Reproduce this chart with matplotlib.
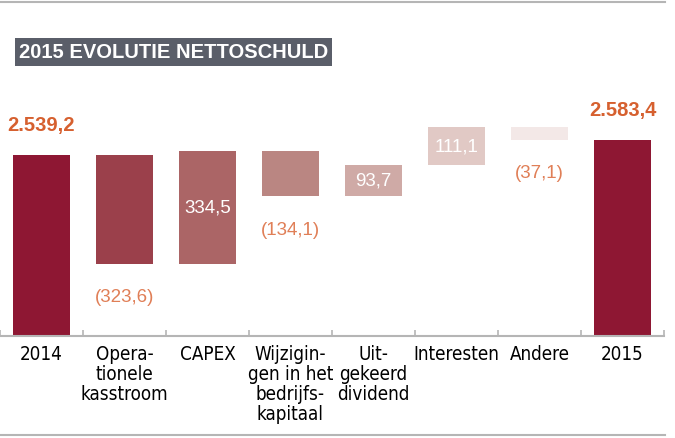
import numpy as np
import matplotlib
matplotlib.use('Agg')
import matplotlib.pyplot as plt
from matplotlib.lines import Line2D
from matplotlib import font_manager

categories = ['2014', 'Opera-\ntionele\nkasstroom', 'CAPEX', 'Wijzigin-\ngen in het\nbedrijfs-\nkapitaal',
              'Uit-\ngekeerd\ndividend', 'Interesten', 'Andere', '2015']
start_total = 2539.2
end_total = 2583.4
changes = [-323.6, 334.5, -134.1, 93.7, 111.1, -37.1]
labels = ['2.539,2', '(323,6)', '334,5', '(134,1)', '93,7', '111,1', '(37,1)', '2.583,4']
colors = ['#8e1733', '#9b404b', '#ab6566', '#ba8682', '#cfaaa6', '#e1c9c5', '#f3e8e7', '#8e1733']

ORANGE = '#d6602f'
ORANGE_LIGHT = '#e07f57'
plain = ['Liberation Sans', 'DejaVu Sans']


def pick_narrow():
    # look for any installed condensed / narrow sans face
    for f in font_manager.fontManager.ttflist:
        n = (f.name + ' ' + f.fname).lower()
        low = f.fname.lower()
        if ('narrow' in n or 'condensed' in n) and 'bold' not in low \
                and 'italic' not in low and 'oblique' not in low:
            return font_manager.FontProperties(fname=f.fname, size=13.5)
    return font_manager.FontProperties(family='Liberation Sans', size=13)


def main():
    fig = plt.figure(figsize=(6.75, 4.39), dpi=100)
    fig.patch.set_facecolor('white')
    ax = fig.add_axes([0, 102 / 439, 664 / 675, 337 / 439])

    # waterfall geometry
    cum = start_total + np.cumsum([0] + changes)
    bottoms = [0]
    heights = [start_total]
    for i, c in enumerate(changes):
        bottoms.append(min(cum[i], cum[i + 1]))
        heights.append(abs(c))
    bottoms.append(0)
    heights.append(end_total)

    x = np.arange(len(categories))
    ax.bar(x, heights, bottom=bottoms, width=0.69, color=colors, zorder=2)

    ymin = 2000
    ax.set_ylim(ymin, ymin + 337 / 0.336)
    ax.set_xlim(-0.5, len(categories) - 0.5)

    # value labels
    for i in range(len(categories)):
        top = bottoms[i] + heights[i]
        if i in (0, len(categories) - 1):
            ax.annotate(labels[i], (x[i], top), xytext=(0, 30), textcoords='offset pixels',
                        ha='center', va='center', color=ORANGE, fontsize=14.5,
                        fontweight='bold', family=plain)
        elif changes[i - 1] < 0:
            ax.annotate(labels[i], (x[i], bottoms[i]), xytext=(0, -33), textcoords='offset pixels',
                        ha='center', va='center', color=ORANGE_LIGHT, fontsize=13.5, family=plain)
        else:
            ax.text(x[i], bottoms[i] + heights[i] / 2, labels[i], ha='center', va='center',
                    color='white', fontsize=13.5, family=plain, zorder=3)

    # axis styling
    for s in ['top', 'right', 'left']:
        ax.spines[s].set_visible(False)
    ax.spines['bottom'].set_color('#b5b5b5')
    ax.spines['bottom'].set_linewidth(1.5)
    ax.set_yticks([])
    ax.set_xticks(x)
    ax.set_xticklabels(categories, fontproperties=pick_narrow(), linespacing=1.05, va='top')
    ax.tick_params(axis='x', which='major', length=0, pad=6)
    ax.set_xticks(np.arange(len(categories) + 1) - 0.5, minor=True)
    ax.tick_params(axis='x', which='minor', direction='in', length=4, width=1.2, color='#b5b5b5')

    # title box
    fig.text(19 / 675, 1 - 53 / 439, '2015 EVOLUTIE NETTOSCHULD', color='white', fontsize=14.5,
             fontweight='bold', family=plain, ha='left', va='center',
             bbox=dict(boxstyle='square,pad=0.2', facecolor='#5a5e69', edgecolor='none'))

    # frame lines
    fig.add_artist(Line2D([0, 665 / 675], [1 - 2.5 / 439, 1 - 2.5 / 439], color='#b5b5b5', lw=1.5))
    fig.add_artist(Line2D([0, 665 / 675], [1 - 436 / 439, 1 - 436 / 439], color='#b5b5b5', lw=1.5))

    fig.savefig('out.png', dpi=100)


if __name__ == '__main__':
    main()
